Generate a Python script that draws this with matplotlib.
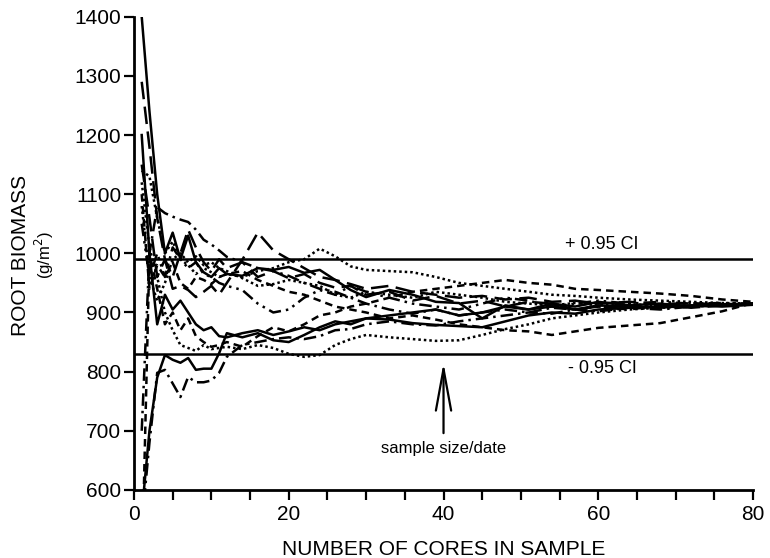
import matplotlib
matplotlib.use("Agg")
import matplotlib.pyplot as plt
from matplotlib.ticker import MultipleLocator

plt.rcParams['font.family'] = ['Liberation Sans', 'DejaVu Sans']

# number of cores drawn so far (shared by all random orderings)
cores = [1, 2, 3, 4, 5, 6, 7, 8, 9, 10, 11, 12, 14, 16, 18, 20, 22, 24, 26, 28, 30,
         33, 36, 39, 42, 45, 48, 51, 54, 57, 60, 64, 68, 72, 76, 80]

# running mean root biomass (g/m2) for each random ordering of the cores
solid_a = [1400, 1240, 1100, 1000, 1035, 990, 1030, 985, 968, 960, 975, 965, 962, 975, 972, 977, 967, 972,
           955, 938, 926, 938, 930, 918, 916, 890, 912, 905, 915, 910, 918, 912, 915, 910, 914, 915]
solid_b = [560, 700, 790, 828, 820, 815, 823, 803, 805, 805, 831, 865, 858, 865, 853, 850, 862, 875,
           885, 880, 890, 895, 900, 905, 895, 900, 910, 905, 910, 905, 912, 910, 908, 912, 910, 913]
solid_c = [1200, 1000, 880, 930, 905, 920, 900, 880, 870, 875, 860, 858, 865, 870, 862, 868, 875, 870,
           880, 885, 890, 888, 882, 879, 877, 875, 885, 895, 900, 898, 905, 908, 910, 912, 913, 914]
longdash_a = [1290, 1180, 1060, 990, 960, 1000, 1040, 1010, 985, 970, 990, 975, 985, 960, 970, 958, 965, 950,
              942, 945, 930, 935, 920, 928, 915, 920, 910, 918, 915, 905, 910, 905, 912, 908, 912, 914]
longdash_b = [1150, 1060, 960, 990, 940, 945, 938, 926, 935, 945, 930, 950, 989, 1035, 1005, 990, 975, 960,
              955, 948, 940, 945, 935, 930, 925, 928, 922, 925, 918, 920, 915, 918, 914, 916, 913, 915]
dashdot_a = [700, 1000, 1078, 1068, 1062, 1057, 1053, 1040, 1023, 1015, 1005, 994, 985, 975, 970, 962, 950, 940,
             935, 925, 915, 905, 898, 905, 895, 900, 905, 900, 908, 905, 910, 908, 912, 910, 914, 914]
dashdot_b = [1050, 960, 1000, 960, 1010, 990, 975, 985, 965, 960, 950, 945, 938, 915, 900, 905, 925, 938,
             930, 945, 935, 925, 915, 910, 905, 915, 925, 920, 910, 915, 920, 915, 918, 915, 916, 915]
dashdot_c = [540, 680, 798, 803, 780, 757, 791, 782, 782, 785, 798, 825, 845, 850, 855, 858, 855, 860,
             870, 872, 880, 885, 880, 878, 885, 890, 895, 900, 898, 905, 902, 908, 905, 910, 912, 914]
shortdash_a = [450, 1000, 940, 880, 900, 870, 890, 860, 850, 842, 845, 850, 842, 860, 875, 868, 880, 895,
               900, 910, 915, 925, 935, 940, 945, 950, 955, 950, 947, 940, 938, 935, 932, 928, 922, 918]
shortdash_b = [1100, 940, 980, 960, 985, 950, 940, 960, 955, 948, 960, 965, 970, 955, 945, 935, 930, 920,
               910, 905, 900, 890, 895, 888, 880, 875, 870, 868, 862, 868, 874, 878, 882, 892, 902, 916]
dotted_a = [1140, 1130, 1060, 1000, 1020, 990, 980, 965, 975, 968, 960, 965, 960, 970, 975, 985, 990, 1008,
            995, 978, 972, 970, 968, 960, 950, 945, 940, 935, 930, 928, 925, 922, 920, 918, 916, 915]
dotted_b = [1120, 1010, 960, 900, 870, 845, 840, 835, 845, 838, 840, 842, 838, 845, 840, 830, 825, 828,
            845, 855, 862, 858, 855, 852, 853, 862, 872, 880, 890, 895, 900, 905, 908, 910, 912, 915]
dotted_c = [1080, 960, 920, 950, 990, 1000, 985, 995, 980, 985, 975, 970, 958, 945, 948, 955, 950, 945,
            930, 925, 935, 930, 925, 935, 930, 925, 918, 915, 912, 916, 912, 914, 912, 916, 914, 915]

upper_ci = 990
lower_ci = 830

series = [
    (solid_a, '-'), (solid_b, '-'), (solid_c, '-'),
    (longdash_a, (0, (7, 3))), (longdash_b, (0, (7, 3))),
    (dashdot_a, (0, (5, 2, 1, 2))), (dashdot_b, (0, (5, 2, 1, 2, 1, 2))), (dashdot_c, (0, (5, 2, 1, 2))),
    (shortdash_a, (0, (3, 2))), (shortdash_b, (0, (3, 2))),
    (dotted_a, (0, (1, 1.2))), (dotted_b, (0, (1, 1.2))), (dotted_c, (0, (1, 1.2))),
]

fig = plt.figure(figsize=(7.7, 5.58), dpi=100)
ax = fig.add_axes([0.174, 0.122, 0.804, 0.848])

for vals, ls in series:
    ax.plot(cores, vals, color='black', linestyle=ls, linewidth=1.8)

ax.plot([0, 80], [upper_ci, upper_ci], color='black', linewidth=1.8)
ax.plot([0, 80], [lower_ci, lower_ci], color='black', linewidth=1.8)
ax.text(60.5, upper_ci + 11, '+ 0.95 CI', fontsize=13, ha='center', va='bottom')
ax.text(60.5, lower_ci - 11, '- 0.95 CI', fontsize=13, ha='center', va='top')

ax.annotate('', xy=(40, 815), xytext=(40, 696),
            arrowprops=dict(arrowstyle='->,head_length=3,head_width=0.55',
                            mutation_scale=10, color='black', linewidth=1.6,
                            shrinkA=0, shrinkB=0))
ax.text(40, 670, 'sample size/date', fontsize=12, ha='center', va='center')

ax.set_xlim(0, 80)
ax.set_ylim(600, 1400)
ax.xaxis.set_major_locator(MultipleLocator(20))
ax.xaxis.set_minor_locator(MultipleLocator(5))
ax.yaxis.set_major_locator(MultipleLocator(100))
ax.tick_params(which='both', direction='out', length=7, width=1.6, labelsize=15)
ax.tick_params(axis='y', pad=2)
ax.spines['top'].set_visible(False)
ax.spines['right'].set_visible(False)
ax.spines['left'].set_linewidth(2)
ax.spines['bottom'].set_linewidth(2)

ax.set_xlabel('NUMBER OF CORES IN SAMPLE', fontsize=15, labelpad=12)
fig.text(0.026, 0.543, 'ROOT BIOMASS', fontsize=15, rotation=90, ha='center', va='center')
fig.text(0.058, 0.543, '(g/m$^2$)', fontsize=12, rotation=90, ha='center', va='center')

fig.savefig('out.png', dpi=100)
